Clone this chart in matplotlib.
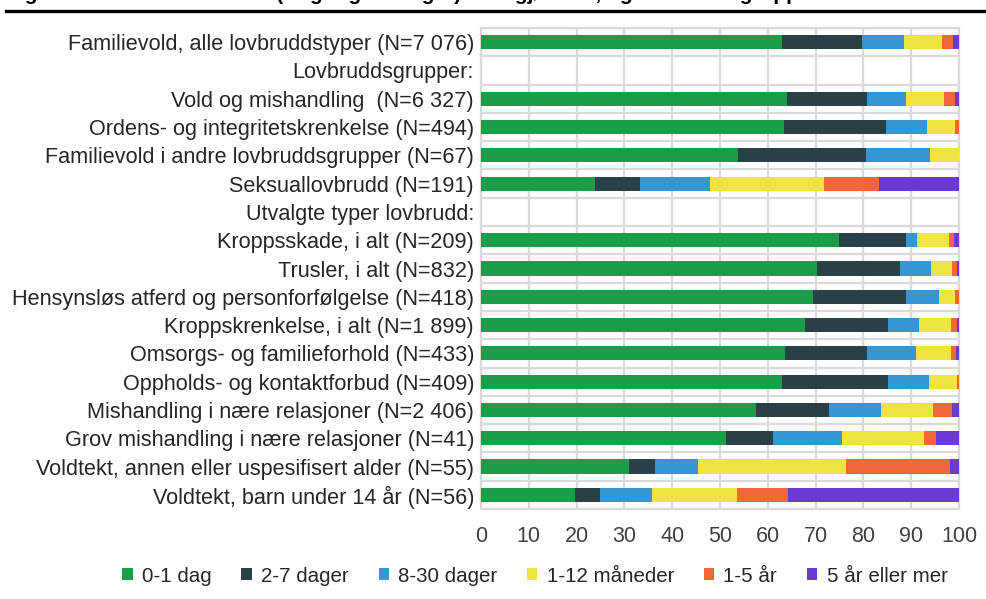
import matplotlib
matplotlib.use("Agg")
import matplotlib.pyplot as plt
from matplotlib.patches import Patch
from matplotlib.lines import Line2D

plt.rcParams['font.family'] = ['Liberation Sans', 'DejaVu Sans']

categories = [
    "Familievold, alle lovbruddstyper (N=7 076)",
    "Lovbruddsgrupper:",
    "Vold og mishandling  (N=6 327)",
    "Ordens- og integritetskrenkelse (N=494)",
    "Familievold i andre lovbruddsgrupper (N=67)",
    "Seksuallovbrudd (N=191)",
    "Utvalgte typer lovbrudd:",
    "Kroppsskade, i alt (N=209)",
    "Trusler, i alt (N=832)",
    "Hensynsløs atferd og personforfølgelse (N=418)",
    "Kroppskrenkelse, i alt (N=1 899)",
    "Omsorgs- og familieforhold (N=433)",
    "Oppholds- og kontaktforbud (N=409)",
    "Mishandling i nære relasjoner (N=2 406)",
    "Grov mishandling i nære relasjoner (N=41)",
    "Voldtekt, annen eller uspesifisert alder (N=55)",
    "Voldtekt, barn under 14 år (N=56)",
]

series_names = ["0-1 dag", "2-7 dager", "8-30 dager", "1-12 måneder", "1-5 år", "5 år eller mer"]

d0_1 =   [63.0, 0, 64.1, 63.4, 53.7, 23.9, 0, 75.0, 70.2, 69.5, 67.8, 63.7, 63.0, 57.5, 51.2, 30.9, 19.6]
d2_7 =   [16.8, 0, 16.6, 21.3, 26.9,  9.4, 0, 13.9, 17.4, 19.4, 17.3, 17.0, 22.1, 15.3,  9.8,  5.5,  5.4]
d8_30 =  [ 8.6, 0,  8.3,  8.7, 13.4, 14.7, 0,  2.3,  6.6,  6.9,  6.5, 10.4,  8.6, 10.8, 14.6,  9.1, 10.7]
m1_12 =  [ 8.1, 0,  7.9,  5.8,  6.0, 23.7, 0,  6.8,  4.4,  3.4,  6.7,  7.2,  5.9, 11.0, 17.1, 30.9, 17.9]
y1_5 =   [ 2.3, 0,  2.2,  0.8,  0.0, 11.6, 0,  1.0,  1.0,  0.8,  1.3,  1.1,  0.4,  3.9,  2.4, 21.8, 10.7]
y5plus = [ 1.2, 0,  0.9,  0.0,  0.0, 16.7, 0,  1.0,  0.4,  0.0,  0.4,  0.6,  0.0,  1.5,  4.9,  1.8, 35.7]

xticks = [0, 10, 20, 30, 40, 50, 60, 70, 80, 90, 100]

colors = ["#1b9d4a", "#284046", "#3596d3", "#f0e440", "#f36639", "#6a3ad3"]

fig = plt.figure(figsize=(9.87, 5.99), dpi=100)
ax = fig.add_axes([481/987, 1-509/599, (959-481)/987, (509-28)/599])

y = list(range(len(categories)))
left = [0.0]*len(categories)
for vals, col, name in zip([d0_1, d2_7, d8_30, m1_12, y1_5, y5plus], colors, series_names):
    ax.barh(y, vals, left=left, height=0.5, color=col, label=name, zorder=3,
            edgecolor='none')
    left = [a+b for a, b in zip(left, vals)]

ax.set_xlim(0, 100)
ax.set_ylim(len(categories)-0.5, -0.5)
ax.set_xticks(xticks)
ax.set_xticklabels([str(t) for t in xticks])
ax.set_yticks(y)
ax.set_yticklabels(categories)
ax.tick_params(axis='y', length=0, pad=5, labelsize=15.6, labelcolor='#262626')
ax.tick_params(axis='x', length=0, pad=12, labelsize=15.5, labelcolor='#404040')

ax.set_yticks([i+0.5 for i in range(-1, len(categories))], minor=True)
ax.tick_params(axis='y', which='minor', length=0)
ax.grid(axis='x', which='major', color='#d9d9d9', linewidth=1.6, zorder=0)
ax.grid(axis='y', which='minor', color='#d9d9d9', linewidth=1.6, zorder=0)
ax.grid(axis='y', which='major', visible=False)
for s in ax.spines.values():
    s.set_color('#d9d9d9')
    s.set_linewidth(1.6)

handles = [Patch(facecolor=c, edgecolor='none', label=n) for c, n in zip(colors, series_names)]
fig.legend(handles=handles, loc='center', bbox_to_anchor=(535/987, 1-576/599), ncol=6,
           frameon=False, fontsize=14.8, handlelength=0.5, handleheight=0.5,
           handletextpad=0.45, columnspacing=1.45, labelcolor='#262626')

# thick rule under the (cut-off) title
fig.add_artist(Line2D([6/987, 1.0], [1-11/599, 1-11/599], color='black', linewidth=2.4,
                      transform=fig.transFigure))
fig.text(6/987, 1+0.5/599, "Figur 5. Tid fra anmeldelse (ringeriget i dager) til avgjørelse, og lovbruddsgruppe",
         fontsize=15, fontweight='bold', ha='left', va='baseline', color='black')

fig.savefig("out.png", dpi=100)
